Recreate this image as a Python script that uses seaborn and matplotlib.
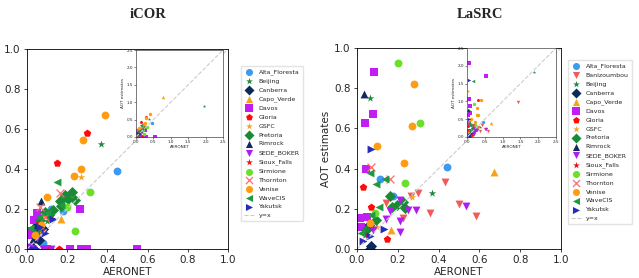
import matplotlib
matplotlib.use("Agg")
import matplotlib.pyplot as plt
import seaborn as sns

stations = ["Alta_Floresta", "Banizoumbou", "Beijing", "Canberra", "Capo_Verde", "Davos",
            "Gloria", "GSFC", "Pretoria", "Rimrock", "SEDE_BOKER", "Sioux_Falls",
            "Sirmione", "Thornton", "Venise", "WaveCIS", "Yakutsk"]

markers = {"Alta_Floresta": "o", "Banizoumbou": "v", "Beijing": "*", "Canberra": "D",
           "Capo_Verde": "^", "Davos": "s", "Gloria": "p", "GSFC": "*", "Pretoria": "D",
           "Rimrock": "^", "SEDE_BOKER": "v", "Sioux_Falls": "*", "Sirmione": "o",
           "Thornton": "x", "Venise": "o", "WaveCIS": "<", "Yakutsk": ">"}

colors = {"Alta_Floresta": "#3a9bf0", "Banizoumbou": "#f25a5a", "Beijing": "#1f8a3c",
          "Canberra": "#0a2a5c", "Capo_Verde": "#f7a21b", "Davos": "#c21df5",
          "Gloria": "#ff0a0a", "GSFC": "#f5a623", "Pretoria": "#1b8a36", "Rimrock": "#102a5e",
          "SEDE_BOKER": "#b01cf0", "Sioux_Falls": "#f01010", "Sirmione": "#6be02a",
          "Thornton": "#ff6b6b", "Venise": "#ff9c12", "WaveCIS": "#1f9a40", "Yakutsk": "#2a2ab8"}

# iCOR: AERONET (x) vs AOT estimate (y)
icor_x = {
    "Alta_Floresta": [0.45, 0.12, 0.18, 0.08, 0.05],
    "Beijing": [0.37, 1.94, 0.10],
    "Canberra": [0.04, 0.06, 0.025, 0.05, 0.08],
    "Capo_Verde": [0.17, 0.77, 0.06],
    "Davos": [0.265, 0.05, 0.035, 0.015, 0.10, 0.215, 0.27, 0.30, 0.545, 0.02, 0.005],
    "Gloria": [0.30, 0.15, 0.115, 0.16],
    "GSFC": [0.27, 0.17, 0.10],
    "Pretoria": [0.225, 0.24, 0.205, 0.165, 0.17, 0.09, 0.065, 0.045, 0.13, 0.19, 0.11],
    "Rimrock": [0.07, 0.05, 0.03],
    "SEDE_BOKER": [0.08, 0.12, 0.01, 0.05, 0.03],
    "Sioux_Falls": [0.08, 0.06],
    "Sirmione": [0.315, 0.24, 0.20],
    "Thornton": [0.165, 0.065, 0.09],
    "Venise": [0.39, 0.28, 0.27, 0.235, 0.10, 0.04, 0.07],
    "WaveCIS": [0.15, 0.015, 0.17, 0.06, 0.10],
    "Yakutsk": [0.13, 0.065, 0.03, 0.09, 0.05],
}
icor_y = {
    "Alta_Floresta": [0.39, 0.20, 0.19, 0.03, 0.06],
    "Beijing": [0.525, 0.90, 0.14],
    "Canberra": [0.08, 0.045, 0.01, 0.12, 0.10],
    "Capo_Verde": [0.15, 1.15, 0.10],
    "Davos": [0.20, 0.18, 0.145, 0.07, 0.0, 0.0, 0.0, 0.0, 0.0, 0.0, 0.09],
    "Gloria": [0.58, 0.43, 0.0, 0.0],
    "GSFC": [0.36, 0.25, 0.17],
    "Pretoria": [0.285, 0.245, 0.25, 0.24, 0.215, 0.185, 0.145, 0.095, 0.195, 0.27, 0.17],
    "Rimrock": [0.24, 0.12, 0.05],
    "SEDE_BOKER": [0.0, 0.0, 0.01, 0.055, 0.0],
    "Sioux_Falls": [0.095, 0.13],
    "Sirmione": [0.285, 0.09, 0.21],
    "Thornton": [0.28, 0.21, 0.16],
    "Venise": [0.67, 0.545, 0.40, 0.365, 0.26, 0.07, 0.12],
    "WaveCIS": [0.335, 0.105, 0.22, 0.16, 0.18],
    "Yakutsk": [0.15, 0.11, 0.0, 0.08, 0.0],
}

# LaSRC: AERONET (x) vs AOT estimate (y)
lasrc_x = {
    "Alta_Floresta": [0.44, 0.115, 0.175],
    "Banizoumbou": [0.43, 0.30, 0.265, 0.50, 0.585, 0.36, 0.14, 0.225, 1.42],
    "Beijing": [0.065, 0.37, 1.87],
    "Canberra": [0.065, 0.07, 0.05, 0.06],
    "Capo_Verde": [0.67, 0.165],
    "Davos": [0.085, 0.077, 0.04, 0.045, 0.015, 0.05, 0.02, 0.07, 0.53, 0.07],
    "Gloria": [0.03, 0.067, 0.145, 0.04, 0.30],
    "GSFC": [0.27, 0.02, 0.10],
    "Pretoria": [0.16, 0.225, 0.235, 0.195, 0.17, 0.095, 0.045],
    "Rimrock": [0.035, 0.07, 0.065],
    "SEDE_BOKER": [0.535, 0.29, 0.25, 0.21, 0.16, 0.21, 0.21, 0.14, 0.08],
    "Sioux_Falls": [0.04],
    "Sirmione": [0.20, 0.31, 0.235, 0.09],
    "Thornton": [0.067, 0.16],
    "Venise": [0.28, 0.27, 0.23, 0.10, 0.065, 0.38],
    "WaveCIS": [0.065, 0.095, 0.135, 0.07, 0.11, 0.02, 0.16],
    "Yakutsk": [0.07, 0.13, 0.065, 0.03, 0.07],
}
lasrc_y = {
    "Alta_Floresta": [0.41, 0.35, 0.265],
    "Banizoumbou": [0.335, 0.28, 0.265, 0.225, 0.165, 0.18, 0.23, 0.155, 0.97],
    "Beijing": [0.75, 0.28, 1.82],
    "Canberra": [0.0, 0.015, 0.10, 0.12],
    "Capo_Verde": [0.385, 0.095],
    "Davos": [0.88, 0.67, 0.625, 0.40, 0.155, 0.16, 0.11, 2.07, 1.70, 1.07],
    "Gloria": [0.31, 0.21, 0.05, 0.09, 1.05],
    "GSFC": [0.26, 1.30, 0.11],
    "Pretoria": [0.265, 0.235, 0.205, 0.22, 0.21, 0.145, 0.095],
    "Rimrock": [0.77, 0.02, 0.005],
    "SEDE_BOKER": [0.215, 0.195, 0.195, 0.245, 0.19, 0.14, 0.085, 0.15, 0.095],
    "Sioux_Falls": [0.07],
    "Sirmione": [0.925, 0.625, 0.33, 0.18],
    "Thornton": [0.41, 0.35],
    "Venise": [0.82, 0.61, 0.43, 0.51, 0.13, 1.05],
    "WaveCIS": [0.38, 0.325, 0.35, 0.17, 0.21, 0.08, 1.57],
    "Yakutsk": [0.50, 0.10, 0.065, 0.04, 1.61],
}

sns.set_style("ticks")
plt.rcParams["font.family"] = ["DejaVu Sans"]

fig = plt.figure(figsize=(6.39, 2.78), dpi=100)
W, H = 639, 278


def box(x0, y0, x1, y1):
    # pixel box -> figure fraction
    return [x0 / W, 1 - y1 / H, (x1 - x0) / W, (y1 - y0) / H]


def draw_points(ax, xs, ys, size):
    for name in stations:
        if name not in xs:
            continue
        m = markers[name]
        sns.scatterplot(x=xs[name], y=ys[name], marker=m, color=colors[name], s=size,
                        linewidth=(0.9 if m == "x" else 0), label=name, ax=ax, legend=False)
    ax.plot([0, 2.5], [0, 2.5], ls="--", color="#cccccc", lw=0.8, label="y=x")


def panel(xs, ys, main_box, inset_box, legend_xy, title, title_xy):
    ax = fig.add_axes(box(*main_box))
    draw_points(ax, xs, ys, 32)
    ax.set_xlim(0, 1)
    ax.set_ylim(0, 1)
    ax.set_xticks([0, 0.2, 0.4, 0.6, 0.8, 1.0])
    ax.set_yticks([0, 0.2, 0.4, 0.6, 0.8, 1.0])
    ax.tick_params(labelsize=7.5, length=2.5, width=0.6, pad=2)
    ax.set_xlabel("AERONET", fontsize=7.5, labelpad=1)
    ax.set_ylabel("AOT estimates", fontsize=7.5, labelpad=2)
    for sp in ax.spines.values():
        sp.set_linewidth(0.6)
        sp.set_color("black")

    handles, labels = ax.get_legend_handles_labels()
    ax.legend(handles, labels, loc="upper left", bbox_to_anchor=(legend_xy[0] / W, 1 - legend_xy[1] / H),
              bbox_transform=fig.transFigure, fontsize=4.5, frameon=True, edgecolor="#dddddd",
              fancybox=False, labelspacing=0.55, handlelength=1.5, handletextpad=0.8,
              borderpad=0.5, borderaxespad=0, markerscale=0.9)

    axi = fig.add_axes(box(*inset_box))
    draw_points(axi, xs, ys, 6)
    axi.set_xlim(0, 2.5)
    axi.set_ylim(0, 2.5)
    axi.set_xticks([0, 0.5, 1.0, 1.5, 2.0, 2.5])
    axi.set_yticks([0, 0.5, 1.0, 1.5, 2.0, 2.5])
    axi.tick_params(labelsize=3, length=1.2, width=0.4, pad=1)
    axi.set_xlabel("AERONET", fontsize=3, labelpad=1)
    axi.set_ylabel("AOT estimates", fontsize=3, labelpad=1)
    for sp in axi.spines.values():
        sp.set_linewidth(0.5)
        sp.set_color("#444444")

    fig.text(title_xy[0] / W, 1 - title_xy[1] / H, title, ha="center", va="center",
             fontsize=10.5, fontweight="bold", family="Liberation Serif")


panel(icor_x, icor_y, (27, 49, 228, 249), (136, 50, 223, 137), (241, 66), "iCOR", (148, 15))
panel(lasrc_x, lasrc_y, (357, 48, 561, 249), (467, 48, 556, 137), (568, 60), "LaSRC", (480, 15))

fig.savefig("out.png", dpi=100)
